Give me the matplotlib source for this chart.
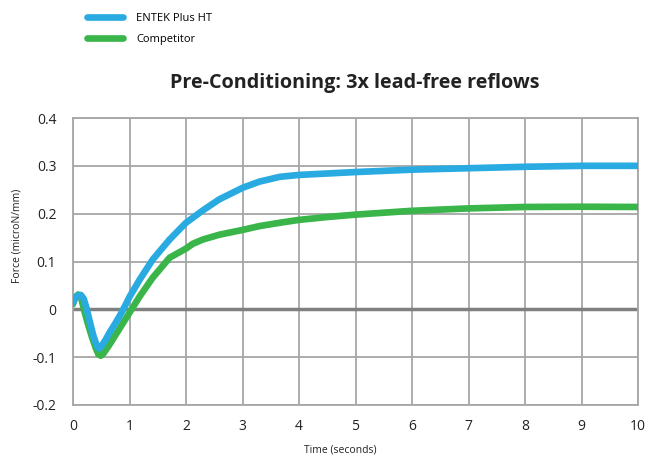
import matplotlib
matplotlib.use("Agg")
import matplotlib.pyplot as plt
import numpy as np

plt.rcParams['font.family'] = ['Open Sans', 'DejaVu Sans']

title = "Pre-Conditioning: 3x lead-free reflows"
series_names = ["ENTEK Plus HT", "Competitor"]

entek_x = [0, 0.04, 0.09, 0.14, 0.19, 0.24, 0.3, 0.36, 0.42, 0.46, 0.5, 0.58, 0.65, 0.74, 0.83, 0.92,
           1.0, 1.18, 1.41, 1.71, 2.0, 2.3, 2.59, 3.0, 3.3, 3.66, 4.0, 4.5, 5.0, 6.0, 7.0, 8.0, 9.0, 10.0]
entek_y = [0.014, 0.024, 0.029, 0.03, 0.022, 0.002, -0.027, -0.055, -0.076, -0.082, -0.078, -0.063, -0.048, -0.031, -0.013, 0.007,
           0.026, 0.062, 0.104, 0.146, 0.181, 0.207, 0.230, 0.254, 0.267, 0.277, 0.281, 0.284, 0.287, 0.292, 0.295, 0.298, 0.300, 0.300]

comp_x = [0, 0.04, 0.09, 0.14, 0.2, 0.27, 0.33, 0.4, 0.45, 0.49, 0.54, 0.65, 0.74, 0.83, 0.92,
          1.0, 1.18, 1.41, 1.71, 2.0, 2.12, 2.3, 2.59, 3.0, 3.3, 3.66, 4.0, 4.5, 5.0, 6.0, 7.0, 8.0, 9.0, 10.0]
comp_y = [0.011, 0.025, 0.031, 0.026, -0.003, -0.033, -0.056, -0.08, -0.094, -0.097, -0.092, -0.073, -0.056, -0.039, -0.022,
          -0.007, 0.027, 0.066, 0.108, 0.127, 0.137, 0.146, 0.156, 0.166, 0.174, 0.181, 0.187, 0.193, 0.198, 0.206, 0.211, 0.214, 0.2145, 0.214]

x_ticks = list(range(0, 11))
y_ticks = [-0.2, -0.1, 0, 0.1, 0.2, 0.3, 0.4]
y_tick_labels = ["-0.2", "-0.1", "0", "0.1", "0.2", "0.3", "0.4"]

blue = "#29ABE2"
green = "#39B54A"
grid_c = "#a6a6a6"

fig = plt.figure(figsize=(6.47, 4.59), dpi=100)
ax = fig.add_axes([73/647, 1-405/459, (638-73)/647, (405-118)/459])

ax.set_xlim(0, 10)
ax.set_ylim(-0.2, 0.4)
ax.set_xticks(x_ticks)
ax.set_yticks(y_ticks)
ax.set_yticklabels(y_tick_labels)
ax.grid(True, color=grid_c, linewidth=1.3)
ax.set_axisbelow(True)
for s in ax.spines.values():
    s.set_color(grid_c)
    s.set_linewidth(1.3)
ax.tick_params(length=0, labelsize=10, colors="#222222")
ax.tick_params(axis='y', pad=12)
ax.tick_params(axis='x', pad=10)

ax.axhline(0, color="#808080", linewidth=2.5, zorder=2)

l1, = ax.plot(entek_x, entek_y, color=blue, linewidth=4.8, solid_joinstyle='round', solid_capstyle='round', zorder=4)
l2, = ax.plot(comp_x, comp_y, color=green, linewidth=4.8, solid_joinstyle='round', solid_capstyle='round', zorder=3)

ax.set_xlabel("Time (seconds)", fontsize=7.5, color="#222222")
ax.set_ylabel("Force (microN/mm)", fontsize=7.5, color="#222222")
ax.xaxis.set_label_coords((340 - 73) / 565, (405 - 444) / 287)
ax.yaxis.set_label_coords((23 - 73) / 565, (405 - 236) / 287)

fig.text(355/647, 1-83/459, title, ha='center', va='center', fontsize=14.2, fontweight='bold', color="#222222")

fig.legend([l1, l2], series_names, loc='upper left', bbox_to_anchor=(77/647, 1-3/459),
           frameon=False, fontsize=8, handlelength=3.2, handletextpad=1.2, labelspacing=0.9)

fig.savefig("out.png", dpi=100)
